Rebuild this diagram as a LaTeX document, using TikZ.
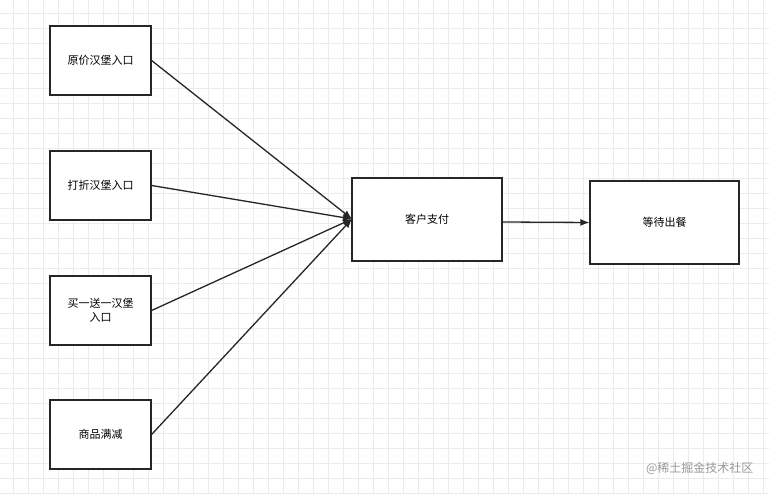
\documentclass[tikz,border=0pt]{standalone}
\usepackage{fontspec}
\setmainfont{Noto Sans CJK SC}
\usetikzlibrary{arrows.meta}
\begin{document}
\begin{tikzpicture}[x=1pt,y=1pt,
  box/.style={draw=black!85,line width=1.2pt,fill=white,inner sep=0pt,font=\fontsize{11}{14}\selectfont,align=center},
  conn/.style={draw=black!85,line width=1.3pt,-{Latex[length=9pt,width=7pt]}}]
\fill[white] (0,0) rectangle (769,494);
\useasboundingbox (0,0) rectangle (769,494);
\foreach \i in {0,...,51} {\draw[black!8,line width=0.6pt] ({13+15*\i},0) -- ({13+15*\i},494);}
\foreach \i in {0,...,33} {\draw[black!8,line width=0.6pt] (0,{494-13-15*\i}) -- (769,{494-13-15*\i});}
\node[box,minimum width=101pt,minimum height=69pt] (a) at (100.5,{494-60.5}) {原价汉堡入口};
\node[box,minimum width=101pt,minimum height=69pt] (b) at (100.5,{494-185.5}) {打折汉堡入口};
\node[box,minimum width=101pt,minimum height=69pt] (c) at (100.5,{494-310.5}) {买一送一汉堡\\入口};
\node[box,minimum width=101pt,minimum height=69pt] (d) at (100.5,{494-434.5}) {商品满减};
\node[box,minimum width=150pt,minimum height=83pt] (p) at (427,{494-219.5}) {客户支付};
\node[box,minimum width=149pt,minimum height=83pt] (w) at (664.5,{494-222.5}) {等待出餐};
\coordinate (t) at (352,{494-219});
\coordinate (s) at (502,{494-222});
\draw[conn] (a.east) -- (t);
\draw[conn] (b.east) -- (t);
\draw[conn] (c.east) -- (t);
\draw[conn] (d.east) -- (t);
\draw[conn] (s) -- (w.west);
\node[text=black!40,font=\fontsize{12}{14}\selectfont,anchor=east] (wm) at (757,{494-468}) {@稀土掘金技术社区};
\end{tikzpicture}
\end{document}
